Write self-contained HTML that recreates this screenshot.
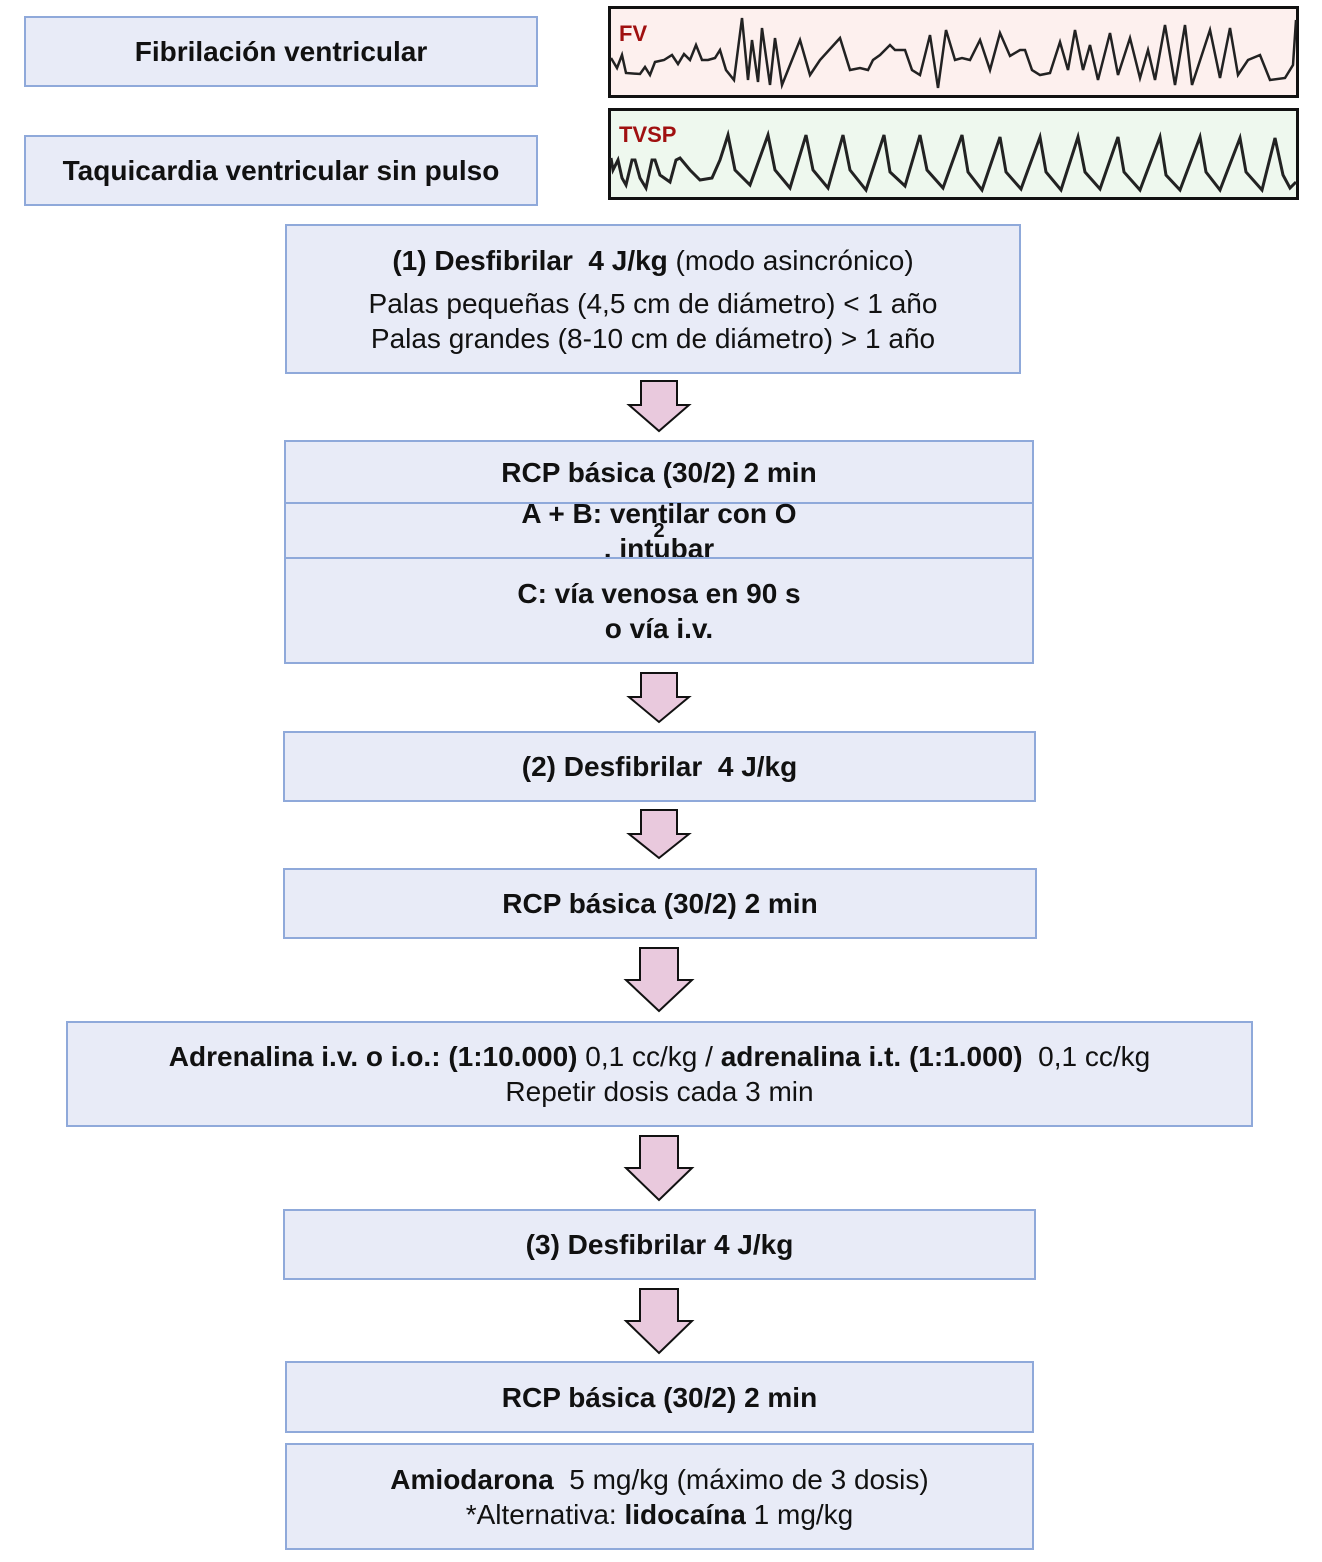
<!DOCTYPE html>
<html><head><meta charset="utf-8"><style>
body{margin:0;width:1322px;height:1562px;background:#fff;position:relative;overflow:hidden;font-family:"Liberation Sans Narrow","Liberation Sans",sans-serif;color:#111}
.b{position:absolute;box-sizing:border-box;background:#e8ebf7;border:2.5px solid #8fa9da;display:flex;flex-direction:column;justify-content:center;align-items:center;text-align:center;font-size:28px;line-height:35px}
.bd{font-weight:bold}
.n{font-weight:normal;font-family:"Liberation Sans Narrow","Liberation Sans",sans-serif}
svg{position:absolute;left:0;top:0}
</style></head><body>
<div class="b bd" style="left:24px;top:16px;width:514px;height:71px">Fibrilación ventricular</div>
<div class="b bd" style="left:24px;top:135px;width:514px;height:71px">Taquicardia ventricular sin pulso</div>

<div class="b" style="left:285px;top:224px;width:736px;height:150px"><div><b>(1) Desfibrilar&nbsp; 4 J/kg</b> (modo asincrónico)</div><div style="margin-top:8px">Palas pequeñas (4,5 cm de diámetro) &lt; 1 año</div><div>Palas grandes (8-10 cm de diámetro) &gt; 1 año</div></div>

<div class="b bd" style="left:284px;top:440px;width:750px;height:64px">RCP básica (30/2) 2 min</div>
<div class="b bd" style="left:284px;top:502px;width:750px;height:57px">A + B: ventilar con O<sub style="font-size:20px;line-height:0">2</sub>, intubar</div>
<div class="b bd" style="left:284px;top:557px;width:750px;height:107px">C: vía venosa en 90 s<br>o vía i.v.</div>

<div class="b bd" style="left:283px;top:731px;width:753px;height:71px">(2) Desfibrilar&nbsp; 4 J/kg</div>
<div class="b bd" style="left:283px;top:868px;width:754px;height:71px">RCP básica (30/2) 2 min</div>
<div class="b" style="left:66px;top:1021px;width:1187px;height:106px"><div><b>Adrenalina i.v. o i.o.: (1:10.000)</b> 0,1 cc/kg / <b>adrenalina i.t. (1:1.000)</b>&nbsp; 0,1 cc/kg</div><div>Repetir dosis cada 3 min</div></div>
<div class="b bd" style="left:283px;top:1209px;width:753px;height:71px">(3) Desfibrilar 4 J/kg</div>
<div class="b bd" style="left:285px;top:1361px;width:749px;height:72px">RCP básica (30/2) 2 min</div>
<div class="b" style="left:285px;top:1443px;width:749px;height:107px"><div><b>Amiodarona</b>&nbsp; 5 mg/kg (máximo de 3 dosis)</div><div>*Alternativa: <b>lidocaína</b> 1 mg/kg</div></div>

<svg width="1322" height="1562">
<g fill="#e9c9dd" stroke="#111" stroke-width="2">
<polygon points="641,381 677,381 677,405 689,405 659,431 629,405 641,405"/>
<polygon points="641,673 677,673 677,697 689,697 659,722 629,697 641,697"/>
<polygon points="641,810 677,810 677,834 689,834 659,858 629,834 641,834"/>
<polygon points="640,948 678,948 678,980 692,980 659,1011 626,980 640,980"/>
<polygon points="640,1136 678,1136 678,1168 692,1168 659,1200 626,1168 640,1168"/>
<polygon points="640,1289 678,1289 678,1321 692,1321 659,1353 626,1321 640,1321"/>
</g>
<rect x="609.5" y="7.5" width="688" height="89" fill="#fdf0ee" stroke="#111" stroke-width="3"/>
<rect x="609.5" y="109.5" width="688" height="89" fill="#eef8ee" stroke="#111" stroke-width="3"/>
<text x="619" y="41" font-family="Liberation Sans Narrow,Liberation Sans,sans-serif" font-weight="bold" font-size="22" fill="#a01010">FV</text>
<text x="619" y="142" font-family="Liberation Sans Narrow,Liberation Sans,sans-serif" font-weight="bold" font-size="22" fill="#a01010">TVSP</text>
<polyline fill="none" stroke="#222" stroke-width="2.5" points="611,58 617,68 622,55 626,73 640,74 645,67 650,75 655,62 664,60 672,55 678,64 684,54 690,60 696,45 702,60 708,60 715,58 720,50 726,70 734,80 742,18 748,80 752,40 758,82 762,28 770,85 775,38 782,85 788,70 800,40 810,75 820,60 840,38 850,70 860,68 868,70 873,60 880,55 890,45 895,50 905,50 912,70 920,75 930,35 938,88 946,30 955,60 962,58 970,60 980,40 990,70 1000,33 1010,56 1020,50 1025,50 1032,70 1040,75 1050,73 1060,42 1068,70 1075,30 1083,70 1090,45 1098,80 1110,33 1118,75 1130,38 1140,78 1148,50 1155,80 1165,25 1175,85 1185,25 1192,85 1210,30 1220,78 1230,28 1238,75 1248,60 1260,55 1270,80 1285,78 1293,65 1296,20"/>
<polyline fill="none" stroke="#222" stroke-width="3" points="611,158 613,170 618,160 622,178 626,185 632,160 635,160 640,178 646,188 652,160 655,160 660,175 670,182 676,160 680,158 690,170 700,180 712,178 720,160 728,135 735,170 750,185 768,135 775,170 790,188 806,135 813,170 828,188 843,135 850,170 866,190 884,135 890,172 905,186 920,135 927,170 943,188 962,135 968,172 982,190 1000,137 1006,172 1021,189 1040,137 1046,172 1061,190 1078,137 1085,172 1100,189 1118,137 1124,172 1140,190 1160,137 1166,175 1180,190 1200,137 1206,172 1220,190 1240,138 1246,172 1262,190 1275,138 1283,175 1290,188 1296,182"/>
</svg>
</body></html>
